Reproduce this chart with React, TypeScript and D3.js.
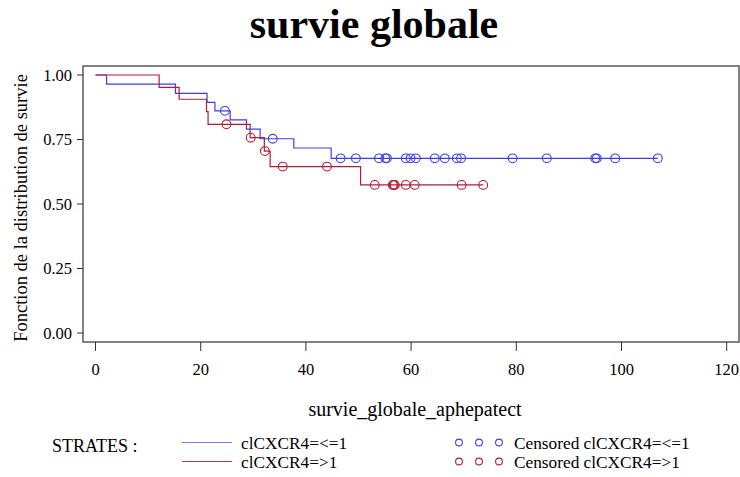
import React from "react";
import * as d3 from "d3";

const xTicks = [0, 20, 40, 60, 80, 100, 120];
const yTicks = [0, 0.25, 0.5, 0.75, 1.0];

// Kaplan-Meier steps: time of drop, survival after drop
const lowTimes = [0, 2.1, 15.2, 21.2, 22.7, 25.6, 28.7, 31.3, 37.7, 44.8];
const lowSurv = [1.0, 0.965, 0.929, 0.894, 0.861, 0.826, 0.79, 0.753, 0.717, 0.677];
const lowEnd = 106.9;
const lowCensor = [24.6, 33.7, 46.6, 49.5, 53.9, 55.1, 55.4, 59.0, 59.9, 60.9, 64.5, 66.4, 68.7, 69.5, 79.3, 85.8, 95.0, 95.3, 98.8, 106.9];

const highTimes = [0, 12.1, 15.9, 21.1, 21.4, 29.4, 32.1, 33.2, 50.4];
const highSurv = [1.0, 0.952, 0.906, 0.858, 0.809, 0.757, 0.705, 0.645, 0.574];
const highEnd = 73.7;
const highCensor = [24.9, 29.5, 32.2, 35.6, 44.0, 53.1, 56.5, 56.7, 56.9, 59.0, 60.7, 69.6, 73.7];

const BLUE = "#3e3ee8";
const RED = "#b01e36";
const FONT = "'Liberation Serif', 'Times New Roman', serif";

const left = 83, right = 739, top = 66, bottom = 342;
const x = d3.scaleLinear().domain([0, 120]).range([95.5, 726.7]);
const y = d3.scaleLinear().domain([0, 1]).range([333, 75]);

function stepPath(times: number[], surv: number[], end: number) {
  const pts: [number, number][] = times.map((t, i) => [t, surv[i]]);
  pts.push([end, surv[surv.length - 1]]);
  const line = d3.line<[number, number]>().x(d => x(d[0])).y(d => y(d[1])).curve(d3.curveStepAfter);
  return line(pts) || "";
}

function survAt(times: number[], surv: number[], t: number) {
  let s = surv[0];
  for (let i = 0; i < times.length; i++) if (times[i] <= t) s = surv[i];
  return s;
}

export default function App() {
  return (
    <svg width={740} height={477} style={{ position: "absolute", left: 0, top: 0, background: "#fff" }} fontFamily={FONT}>
      <rect x={0} y={0} width={740} height={477} fill="#fff" />
      <text x={374} y={38} textAnchor="middle" fontSize={42} fontWeight="bold">survie globale</text>
      {/* frame */}
      <rect x={left} y={top} width={right - left} height={bottom - top} fill="none" stroke="#5a5a5a" strokeWidth={1.5} />
      {/* y axis */}
      {yTicks.map(t => (
        <g key={"y" + t}>
          <line x1={77} x2={left} y1={y(t)} y2={y(t)} stroke="#333" />
          <text x={72} y={y(t) + 5.5} textAnchor="end" fontSize={16.5}>{t.toFixed(2)}</text>
        </g>
      ))}
      {xTicks.map(t => (
        <g key={"x" + t}>
          <line x1={x(t)} x2={x(t)} y1={bottom} y2={351} stroke="#333" />
          <text x={x(t)} y={375} textAnchor="middle" fontSize={16.5}>{t}</text>
        </g>
      ))}
      <text transform="translate(27,208) rotate(-90)" textAnchor="middle" fontSize={18.5}>Fonction de la distribution de survie</text>
      <text x={415} y={416} textAnchor="middle" fontSize={20}>survie_globale_aphepatect</text>
      {/* curves */}
      <path d={stepPath(lowTimes, lowSurv, lowEnd)} fill="none" stroke={BLUE} strokeWidth={1.2} />
      <path d={stepPath(highTimes, highSurv, highEnd)} fill="none" stroke={RED} strokeWidth={1.2} />
      {lowCensor.map((t, i) => (
        <circle key={"lc" + i} cx={x(t)} cy={y(survAt(lowTimes, lowSurv, t))} r={4.4} fill="none" stroke={BLUE} strokeWidth={1.1} />
      ))}
      {highCensor.map((t, i) => (
        <circle key={"hc" + i} cx={x(t)} cy={y(survAt(highTimes, highSurv, t))} r={4.4} fill="none" stroke={RED} strokeWidth={1.1} />
      ))}
      {/* legend */}
      <text x={52} y={452} fontSize={18}>STRATES :</text>
      <line x1={182} x2={232} y1={442.5} y2={442.5} stroke="#7c7cf0" strokeWidth={1.2} />
      <text x={241} y={449} fontSize={17.3}>clCXCR4=&lt;=1</text>
      <line x1={182} x2={232} y1={461.5} y2={461.5} stroke="#b03a4a" strokeWidth={1.2} />
      <text x={241} y={468} fontSize={17.3}>clCXCR4=&gt;1</text>
      {[459, 479, 499].map(cx => (
        <g key={"lg" + cx}>
          <circle cx={cx} cy={442.5} r={3.4} fill="none" stroke={BLUE} strokeWidth={1.1} />
          <circle cx={cx} cy={461.5} r={3.4} fill="none" stroke={RED} strokeWidth={1.1} />
        </g>
      ))}
      <text x={514} y={449} fontSize={17.3}>Censored clCXCR4=&lt;=1</text>
      <text x={514} y={468} fontSize={17.3}>Censored clCXCR4=&gt;1</text>
    </svg>
  );
}
